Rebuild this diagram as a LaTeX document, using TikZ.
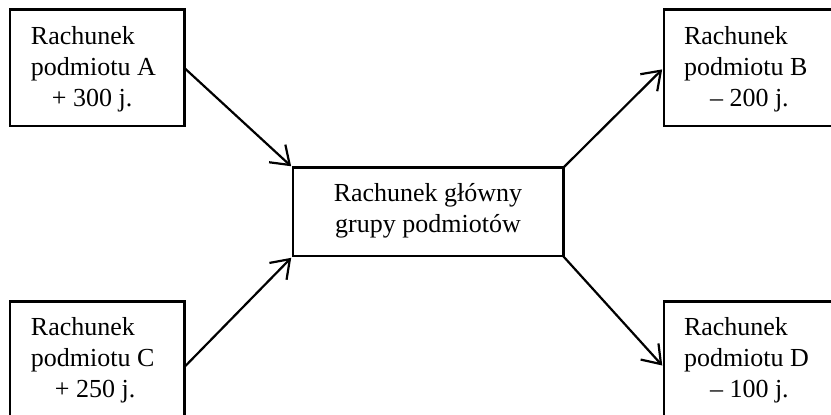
\documentclass[tikz,border=0pt]{standalone}
\usepackage{fontspec}
\setmainfont{Liberation Serif}
\usetikzlibrary{arrows.meta,calc}
\tikzset{
  boxline/.style={draw=black, line width=1.1pt},
  txt/.style={inner sep=0pt, outer sep=0pt, font=\fontsize{13}{15.5}\selectfont},
  conn/.style={line width=1.1pt, -{Straight Barb[length=8.5pt,width=12pt,line width=1.1pt]}, shorten >=1pt}
}
\begin{document}
\begin{tikzpicture}[x=0.5pt,y=-0.5pt]
\useasboundingbox (0,0) rectangle (831,415);
\clip (0,0) rectangle (831,415);
\fill[white] (0,0) rectangle (831,415);
% boxes
\node[inner sep=0pt, minimum width=87pt, minimum height=58pt] (A) at (97,68) {};
\node[inner sep=0pt, minimum width=88pt, minimum height=58pt] (B) at (752,68) {};
\node[inner sep=0pt, minimum width=135pt, minimum height=44pt] (M) at (428,212) {};
\node[inner sep=0pt, minimum width=87pt, minimum height=65pt] (C) at (97,367) {};
\node[inner sep=0pt, minimum width=88pt, minimum height=65pt] (D) at (752,367) {};
\draw[boxline] (A.south east) rectangle (A.north west);
\draw[boxline] (B.south east) rectangle (B.north west);
\draw[boxline] (M.south east) rectangle (M.north west);
\draw[boxline] (C.south east) rectangle (C.north west);
\draw[boxline] (D.south east) rectangle (D.north west);
% texts (anchor = baseline of last line)
\node[txt, anchor=base west, align=left] (tA) at (31,107) {Rachunek\\podmiotu A\\\hspace*{10.5pt}+ 300 j.};
\node[txt, anchor=base west, align=left] (tB) at (684,107) {Rachunek\\podmiotu B\\\hspace*{13pt}– 200 j.};
\node[txt, anchor=base west, align=left] (tC) at (31,398) {Rachunek\\podmiotu C\\\hspace*{12pt}+ 250 j.};
\node[txt, anchor=base west, align=left] (tD) at (684,398) {Rachunek\\podmiotu D\\\hspace*{13pt}– 100 j.};
\node[txt, anchor=base, align=center] (tM) at (428,233) {Rachunek główny\\grupy podmiotów};
% connectors
\draw[conn] (A.east) -- (M.north west);
\draw[conn] (C.east) -- (M.south west);
\draw[conn] (M.north east) -- (B.west);
\draw[conn] (M.south east) -- (D.west);
\end{tikzpicture}
\end{document}
